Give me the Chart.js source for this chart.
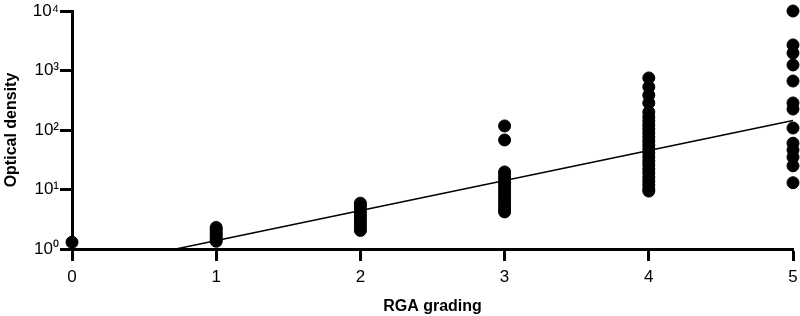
<!DOCTYPE html>
<html>
<head>
<meta charset="utf-8">
<script src="https://cdn.jsdelivr.net/npm/chart.js@4"></script>
<style>
html,body{margin:0;padding:0;background:#fff;}
#wrap{width:800px;height:316px;position:relative;}
</style>
</head>
<body>
<div id="wrap"><canvas id="c" width="800" height="316"></canvas></div>
<script>
// Data
const grades = [0, 1, 2, 3, 4, 5];
const grade0 = [1.3];
const grade1 = [2.3, 2.1, 1.9, 1.75, 1.6, 1.45, 1.35];
const grade2 = [5.9, 5.3, 4.7, 4.2, 3.7, 3.3, 2.9, 2.6, 2.3, 2.05];
const grade3 = [117, 68, 19.7, 17, 15, 13, 11.5, 10, 8.8, 7.7, 6.8, 6, 5.3, 4.7, 4.2];
const grade4 = [750, 530, 385, 285, 200, 166, 141, 121, 104, 89, 76, 65, 56, 48, 41, 35, 30, 26, 22, 19, 16, 13.8, 11.9, 10.2, 9.4];
const grade5 = [10000, 2690, 1960, 1240, 665, 285, 225, 108, 60, 46, 35, 25, 13];
const fitX = [0.72, 5];
const fitY = [1, 145];
const yTicks = [1, 10, 100, 1000, 10000];
const yTickLabels = ['10\u2070', '10\u00b9', '10\u00b2', '10\u00b3', '10\u2074'];
const xTickLabels = ['0', '1', '2', '3', '4', '5'];

const groups = [grade0, grade1, grade2, grade3, grade4, grade5];
const scatterPts = [];
groups.forEach((arr, i) => arr.forEach(v => scatterPts.push({x: grades[i], y: v})));
const fitPts = fitX.map((x, i) => ({x: x, y: fitY[i]}));

const tickFont = {family: 'Liberation Sans, Arial, sans-serif', size: 17, lineHeight: 1};
const titleFont = {family: 'Liberation Sans, Arial, sans-serif', size: 16, weight: 'bold', lineHeight: 1};

new Chart(document.getElementById('c'), {
  type: 'scatter',
  data: {
    datasets: [
      {
        data: scatterPts,
        backgroundColor: '#000',
        borderColor: '#000',
        pointRadius: 6,
        pointHoverRadius: 6,
        clip: false,
        order: 2
      },
      {
        type: 'line',
        data: fitPts,
        borderColor: '#000',
        borderWidth: 1.5,
        pointRadius: 0,
        fill: false,
        clip: false,
        order: 1
      }
    ]
  },
  options: {
    responsive: false,
    animation: false,
    devicePixelRatio: 1,
    layout: {padding: {top: 11, right: 1, left: 0, bottom: 0}},
    plugins: {legend: {display: false}, tooltip: {enabled: false}},
    scales: {
      x: {
        type: 'linear',
        min: 0, max: 5,
        afterFit: s => { s.height = 67; s.paddingRight = 0; s.paddingLeft = 0; },
        afterBuildTicks: s => { s.ticks = grades.map(v => ({value: v})); },
        ticks: {
          color: '#000', font: tickFont, padding: 8,
          callback: (v, i) => xTickLabels[i]
        },
        grid: {drawOnChartArea: false, drawTicks: true, tickLength: 12, tickWidth: 3, tickColor: '#000'},
        border: {display: true, color: '#000', width: 3},
        title: {display: true, text: 'RGA grading', color: '#000', font: titleFont, padding: {top: 0, bottom: 1}}
      },
      y: {
        type: 'logarithmic',
        min: 1, max: 10000,
        afterFit: s => { s.width = 72; },
        afterBuildTicks: s => { s.ticks = yTicks.map(v => ({value: v, major: true})); },
        ticks: {
          color: '#000', font: tickFont, padding: 1,
          callback: (v, i) => yTickLabels[i]
        },
        grid: {drawOnChartArea: false, drawTicks: true, tickLength: 12, tickWidth: 3, tickColor: '#000'},
        border: {display: true, color: '#000', width: 3},
        title: {display: true, text: 'Optical density', color: '#000', font: titleFont, padding: {top: 4, bottom: 0}}
      }
    }
  }
});
</script>
</body>
</html>
